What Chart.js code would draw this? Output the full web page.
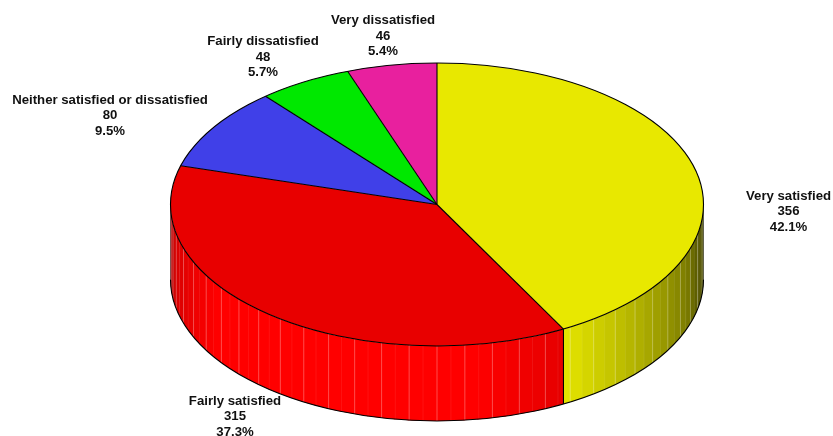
<!DOCTYPE html>
<html>
<head>
<meta charset="utf-8">
<style>html,body{margin:0;padding:0;background:#fff}canvas{display:block}</style>
<script src="https://cdn.jsdelivr.net/npm/chart.js@4"></script>
</head>
<body>
<canvas id="c" width="833" height="436"></canvas>
<script>
const categories = ["Very satisfied","Fairly satisfied","Neither satisfied or dissatisfied","Fairly dissatisfied","Very dissatisfied"];
const counts = [356,315,80,48,46];
const topColours = ["#e8e800","#e80000","#4040e8","#00e800","#e8209e"];
const wallRgb = [[255,255,0],[255,0,0],[68,68,255],[0,255,0],[255,37,173]];
const labelCentres = [[788.5,196],[235,401],[110,100],[263,41.5],[383,20.5]];

const squash = 0.531, depth = 75, lineGap = 15.5, slatDeg = 3;
const shadeStops = [[0,.28],[12,.35],[20,.48],[28,.56],[40,.68],[52,.80],[62,.90],[82,1],[145,1],[168,.85],[180,.60]];
function shade(deg){
  for(let i=1;i<shadeStops.length;i++){
    const [a,b]=shadeStops[i-1],[c,d]=shadeStops[i];
    if(deg<=c) return b+(d-b)*(deg-a)/(c-a);
  }
  return .6;
}
const pie3d = {
  id:'pie3d',
  beforeDatasetsDraw(chart){
    const ctx=chart.ctx, arcs=chart.getDatasetMeta(0).data;
    const {x:cx,y:cy,outerRadius:r}=arcs[0];
    const ry=r*squash, rad=Math.PI/180, TAU=2*Math.PI;
    const px=a=>cx+r*Math.cos(a), py=a=>cy+ry*Math.sin(a);
    ctx.save();
    const seams=[], edges=[];
    arcs.forEach((arc,i)=>{
      let a0=((arc.startAngle%TAU)+TAU)%TAU;
      let a1=a0+(arc.endAngle-arc.startAngle);
      if(a0>=Math.PI){a0-=TAU;a1-=TAU;}
      const st=Math.max(a0,0), en=Math.min(a1,Math.PI);
      if(en<=st) return;
      const c=wallRgb[i];
      let k=Math.floor(st/rad/slatDeg)+1;
      let from=st;
      while(from<en-1e-6){
        const to=Math.min(k*slatDeg*rad,en);
        const b=shade((from+to)/2/rad);
        ctx.beginPath();
        ctx.ellipse(cx,cy,r,ry,0,from,to+.006);
        ctx.ellipse(cx,cy+depth,r,ry,0,to+.006,from,true);
        ctx.closePath();
        ctx.fillStyle=`rgb(${Math.round(c[0]*b)},${Math.round(c[1]*b)},${Math.round(c[2]*b)})`;
        ctx.fill();
        if(to<en) seams.push([to,k]);
        from=to;k++;
      }
      if(a1<Math.PI&&a1>0) edges.push(a1);
    });
    ctx.lineWidth=1;
    seams.forEach(([a,k])=>{
      ctx.beginPath();ctx.moveTo(px(a),py(a));ctx.lineTo(px(a),py(a)+depth);
      ctx.strokeStyle=k%2?'rgba(255,255,255,.07)':'rgba(255,255,255,.3)';
      ctx.stroke();
    });
    ctx.strokeStyle='#000';ctx.lineWidth=1.1;
    edges.forEach(a=>{
      ctx.beginPath();ctx.moveTo(px(a),py(a));ctx.lineTo(px(a),py(a)+depth);ctx.stroke();
    });
    ctx.beginPath();
    ctx.ellipse(cx,cy+depth,r,ry,0,0,Math.PI);
    ctx.stroke();
    ctx.beginPath();
    ctx.moveTo(cx+r,cy);ctx.lineTo(cx+r,cy+depth);
    ctx.moveTo(cx-r,cy);ctx.lineTo(cx-r,cy+depth);
    ctx.lineWidth=1;ctx.strokeStyle='rgba(0,0,0,.4)';ctx.stroke();
    ctx.restore();
    ctx.save();
    ctx.translate(cx,cy);ctx.scale(1,squash);ctx.translate(-cx,-cy);
  },
  afterDatasetsDraw(chart){
    const ctx=chart.ctx, arcs=chart.getDatasetMeta(0).data;
    ctx.restore();
    const {x:cx,y:cy,outerRadius:r}=arcs[0];
    const ry=r*squash;
    ctx.save();
    ctx.strokeStyle='#000';ctx.lineWidth=1.1;
    ctx.beginPath();ctx.ellipse(cx,cy,r,ry,0,0,2*Math.PI);ctx.stroke();
    arcs.forEach(arc=>{
      ctx.beginPath();ctx.moveTo(cx,cy);
      ctx.lineTo(cx+r*Math.cos(arc.startAngle),cy+ry*Math.sin(arc.startAngle));ctx.stroke();
    });
    const total=counts.reduce((a,b)=>a+b,0);
    ctx.fillStyle='#111';ctx.font='bold 13.2px "Liberation Sans", Arial, sans-serif';
    ctx.textAlign='center';ctx.textBaseline='middle';
    categories.forEach((name,i)=>{
      const [x,y]=labelCentres[i];
      ctx.fillText(name,x,y);
      ctx.fillText(String(counts[i]),x,y+lineGap);
      ctx.fillText((counts[i]/total*100).toFixed(1)+'%',x,y+2*lineGap);
    });
    ctx.restore();
  }
};
new Chart(document.getElementById('c'),{
  type:'pie',
  data:{labels:categories,datasets:[{data:counts,backgroundColor:topColours,borderWidth:0,clip:false}]},
  plugins:[pie3d],
  options:{
    responsive:false,animation:false,radius:266.5,
    layout:{padding:{left:41,right:0,top:0,bottom:27}},
    plugins:{legend:{display:false},tooltip:{enabled:false}}
  }
});
</script>
</body>
</html>
